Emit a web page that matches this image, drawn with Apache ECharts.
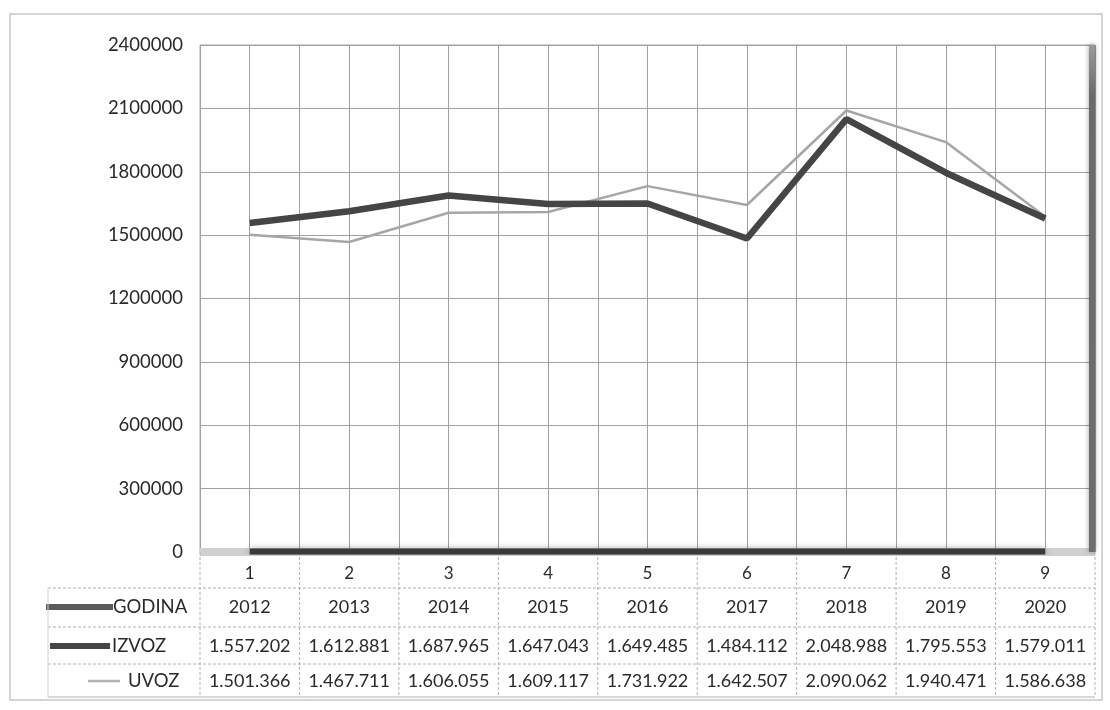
<!DOCTYPE html>
<html><head><meta charset="utf-8">
<script src="https://cdn.jsdelivr.net/npm/echarts@6/dist/echarts.min.js"></script>
<style>html,body{margin:0;padding:0;background:#fff}#c{width:1110px;height:710px}</style>
</head><body><div id="c"></div>
<script>
const categories = [1, 2, 3, 4, 5, 6, 7, 8, 9];
const godina = [2012, 2013, 2014, 2015, 2016, 2017, 2018, 2019, 2020];
const izvoz = [1557202, 1612881, 1687965, 1647043, 1649485, 1484112, 2048988, 1795553, 1579011];
const uvoz = [1501366, 1467711, 1606055, 1609117, 1731922, 1642507, 2090062, 1940471, 1586638];
const seriesNames = ['GODINA', 'IZVOZ', 'UVOZ'];
const yMin = 0, yMax = 2400000, yStep = 300000;

const FONT = 'Lato';
const fmt = v => String(v).replace(/\B(?=(\d{3})+(?!\d))/g, '.');
const chart = echarts.init(document.getElementById('c'));
const pair = arr => arr.map((v, i) => [categories[i], v]);

chart.setOption({
  animation: false,
  backgroundColor: '#fff',
  grid: { left: 200, right: 15, top: 45, bottom: 158, show: true, borderColor: '#a8a8a8', borderWidth: 1 },
  xAxis: {
    type: 'value', min: 0.5, max: 9.5, interval: 0.5,
    axisLine: { show: false }, axisTick: { show: false },
    splitLine: { show: true, lineStyle: { color: '#a0a0a0', width: 1 } },
    axisLabel: { formatter: v => Number.isInteger(v) ? String(v) : '', fontSize: 17, color: '#2a2a2a', fontFamily: FONT, margin: 13, showMinLabel: true, showMaxLabel: true }
  },
  yAxis: {
    type: 'value', min: yMin, max: yMax, interval: yStep,
    axisLine: { show: false }, axisTick: { show: false },
    splitLine: { show: true, lineStyle: { color: '#a0a0a0', width: 1 } },
    axisLabel: { formatter: v => String(v), fontSize: 18.5, color: '#2a2a2a', fontFamily: FONT, margin: 17 }
  },
  series: [
    { name: seriesNames[0], type: 'line', data: pair(godina), symbol: 'none', z: 3,
      lineStyle: { color: '#3a3a3a', width: 6, shadowColor: 'rgba(0,0,0,0.35)', shadowBlur: 6 } },
    { name: seriesNames[2], type: 'line', data: pair(uvoz), symbol: 'none', z: 4,
      lineStyle: { color: '#a6a6a6', width: 2.5 } },
    { name: seriesNames[1], type: 'line', data: pair(izvoz), symbol: 'none', z: 5,
      lineStyle: { color: '#454545', width: 6.5 } }
  ]
});

// data table under the plot, placed from the axis scale
const px = v => chart.convertToPixel({ xAxisIndex: 0 }, v);
const gx0 = px(0.5), gx1 = px(9.5);
const gy0 = chart.convertToPixel({ yAxisIndex: 0 }, yMax), gyB = chart.convertToPixel({ yAxisIndex: 0 }, yMin);
const rowLines = [588, 627, 664, 697];
const rowY = [607, 646, 681];
const g = [];
const lineC = '#b0b0b0';
// shadow band at bottom and right edge
g.push({ type: 'rect', shape: { x: gx0, y: gyB - 4, width: gx1 - gx0, height: 8 }, style: { fill: '#d0d0d0' }, z: 1 });
g.push({ type: 'rect', shape: { x: gx1 - 6, y: gy0, width: 6, height: gyB - gy0 }, style: { fill: new echarts.graphic.LinearGradient(0, 0, 0, 1, [{ offset: 0, color: '#9a9a9a' }, { offset: 0.1, color: '#6a6a6a' }, { offset: 1, color: '#6e6e6e' }]), shadowColor: 'rgba(0,0,0,0.4)', shadowBlur: 5 }, z: 1 });
// horizontal table lines
rowLines.forEach((y, i) => {
  g.push({ type: 'line', shape: { x1: 48, y1: y, x2: gx1, y2: y }, style: { stroke: lineC, lineWidth: 1, lineDash: i === 3 ? null : [3, 2] }, z: 2 });
});
// vertical table lines at category boundaries
for (let k = 0; k <= categories.length; k++) {
  const x = px(0.5 + k);
  g.push({ type: 'line', shape: { x1: x, y1: gyB, x2: x, y2: rowLines[3] }, style: { stroke: lineC, lineWidth: 1, lineDash: [3, 2] }, z: 2 });
}
g.push({ type: 'line', shape: { x1: 48, y1: rowLines[0], x2: 48, y2: rowLines[3] }, style: { stroke: '#d0d0d0', lineWidth: 1 }, z: 2 });
// legend keys + labels
const keys = [
  { x1: 46, x2: 113, color: '#5a5a5a', w: 6, tx: 113 },
  { x1: 50, x2: 110, color: '#454545', w: 6, tx: 112 },
  { x1: 88, x2: 120, color: '#b0b0b0', w: 2.5, tx: 128 }
];
const rowsData = [godina.map(String), izvoz.map(fmt), uvoz.map(fmt)];
seriesNames.forEach((n, r) => {
  const k = keys[r];
  g.push({ type: 'line', shape: { x1: k.x1, y1: rowY[r], x2: k.x2, y2: rowY[r] }, style: { stroke: k.color, lineWidth: k.w } });
  g.push({ type: 'text', x: k.tx, y: rowY[r], style: { text: n, font: '18.5px ' + FONT, fill: '#2a2a2a', textVerticalAlign: 'middle', textAlign: 'left' } });
  rowsData[r].forEach((t, i) => {
    g.push({ type: 'text', x: px(categories[i]), y: rowY[r], style: { text: t, font: '18px ' + FONT, fill: '#2a2a2a', textAlign: 'center', textVerticalAlign: 'middle' } });
  });
});
// outer frame
g.push({ type: 'rect', shape: { x: 10, y: 14, width: 1092, height: 686 }, style: { fill: 'none', stroke: '#c8c8c8', lineWidth: 1.5 }, z: 0 });
chart.setOption({ graphic: g });
</script>
</body></html>
